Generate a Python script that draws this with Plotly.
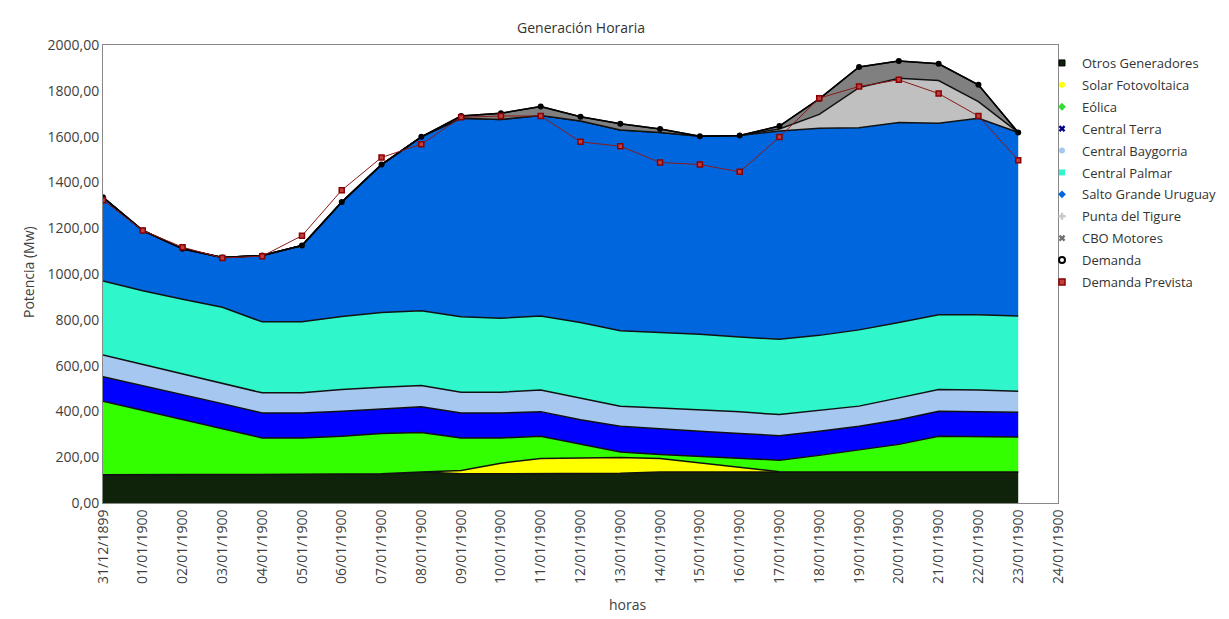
import plotly.graph_objects as go

hours = list(range(24))
tick_labels = ["31/12/1899"] + [f"{d:02d}/01/1900" for d in range(1, 25)]

otros = [123, 125, 125, 124, 125, 125, 125, 128, 135, 128, 128, 128, 130, 130, 135, 135, 136, 137, 135, 135, 135, 135, 135, 135]
solar = [0, 0, 0, 0, 0, 0, 0, 0, 0, 14, 46, 66, 67, 69, 59, 41, 22, 0, 0, 0, 0, 0, 0, 0]
eolica = [321, 279, 239, 199, 159, 159, 166, 175, 173, 142, 110, 97, 59, 24, 18, 27, 37, 50, 73, 97, 121, 156, 153, 153]
terra = [107, 109, 110, 111, 109, 109, 110, 109, 112, 109, 109, 108, 108, 112, 111, 110, 108, 107, 105, 103, 108, 110, 110, 108]
baygorria = [95, 92, 87, 88, 88, 88, 95, 94, 93, 91, 91, 94, 95, 88, 92, 95, 95, 92, 91, 88, 95, 95, 95, 92]
palmar = [324, 322, 329, 333, 310, 310, 318, 326, 326, 329, 323, 324, 329, 329, 329, 329, 327, 329, 328, 333, 329, 326, 329, 329]
salto_grande = [365, 263, 220, 217, 290, 333, 500, 646, 760, 867, 868, 875, 880, 877, 874, 865, 880, 909, 904, 883, 874, 836, 858, 801]
punta_tigre = [0, 0, 0, 0, 0, 0, 0, 0, 0, 0, 0, 0, 0, 0, 0, 0, 0, 9, 61, 175, 193, 187, 73, 0]
cbo_motores = [0, 0, 0, 0, 0, 0, 0, 0, 0, 10, 27, 39, 19, 27, 15, 0, 0, 13, 68, 90, 75, 73, 73, 0]
demanda = [1335, 1190, 1110, 1072, 1081, 1124, 1314, 1478, 1599, 1690, 1702, 1731, 1687, 1656, 1633, 1602, 1605, 1646, 1765, 1904, 1930, 1918, 1826, 1618]
demanda_prevista = [1322, 1190, 1117, 1070, 1078, 1167, 1366, 1509, 1567, 1684, 1690, 1690, 1577, 1558, 1487, 1478, 1446, 1598, 1768, 1819, 1848, 1788, 1690, 1497]

areas = [
    ("Otros Generadores", otros, "#0e230a", dict(symbol="square", color="#0e230a", size=6, line=dict(color="#000", width=1))),
    ("Solar Fotovoltaica", solar, "#ffff00", dict(symbol="circle", color="#ffff00", size=6, line=dict(width=0))),
    ("Eólica", eolica, "#33ff00", dict(symbol="diamond", color="#33dd33", size=6, line=dict(width=0))),
    ("Central Terra", terra, "#0000ff", dict(symbol="x", color="#00008b", size=6, line=dict(width=0))),
    ("Central Baygorria", baygorria, "#a6c8f0", dict(symbol="circle", color="#a6c8f0", size=6, line=dict(width=0))),
    ("Central Palmar", palmar, "#30f6cc", dict(symbol="square", color="#30f6cc", size=6, line=dict(width=0))),
    ("Salto Grande Uruguay", salto_grande, "#0066dd", dict(symbol="diamond", color="#0066dd", size=6, line=dict(width=0))),
    ("Punta del Tigure", punta_tigre, "#c0c0c0", dict(symbol="cross", color="#c8c8c8", size=6, line=dict(width=0))),
    ("CBO Motores", cbo_motores, "#808080", dict(symbol="x", color="#707070", size=6, line=dict(width=0))),
]

fig = go.Figure()

for name, vals, col, mk in areas:
    fig.add_trace(go.Scatter(
        x=hours, y=vals, name=name, stackgroup="gen", mode="lines",
        line=dict(color="#111111", width=1.5), fillcolor=col,
        showlegend=False, hoverinfo="skip",
    ))

fig.add_trace(go.Scatter(
    x=hours, y=demanda, name="Demanda", mode="lines+markers",
    line=dict(color="#000000", width=1.5),
    marker=dict(symbol="circle", size=6, color="#000000"),
    showlegend=False,
))
fig.add_trace(go.Scatter(
    x=hours, y=demanda_prevista, name="Demanda Prevista", mode="lines+markers",
    line=dict(color="#8b1a1a", width=1),
    marker=dict(symbol="square", size=5, color="#c04040", line=dict(color="#8b0000", width=1.5)),
    showlegend=False,
))

# legend entries (marker style, as in the original)
legend_items = [(name, mk) for name, vals, col, mk in areas] + [
    ("Demanda", dict(symbol="circle", size=6, color="#ffffff", line=dict(color="#000", width=2))),
    ("Demanda Prevista", dict(symbol="square", size=6, color="#c04040", line=dict(color="#8b0000", width=1.5))),
]
for name, mk in legend_items:
    fig.add_trace(go.Scatter(x=[None], y=[None], name=name, legendgroup=name, mode="markers",
                             marker=mk, showlegend=True))

# the page adds an 8 px body margin, so the figure is drawn 8 px smaller
W, H = 1221, 611
fig.update_layout(
    width=W, height=H,
    margin=dict(l=95, r=171, t=37, b=116, autoexpand=False),
    paper_bgcolor="white", plot_bgcolor="white",
    separators=", ",
    font=dict(family="Open Sans, Noto Sans, sans-serif", size=14, color="#404040"),
    legend=dict(xref="container", yref="container", x=1034 / W, xanchor="left", y=1 - 40 / H, yanchor="top",
                traceorder="grouped", tracegroupgap=2, font=dict(size=13, color="#333333"),
                bgcolor="rgba(0,0,0,0)", itemwidth=30),
    showlegend=True,
    annotations=[
        dict(text="Generación Horaria", xref="paper", yref="paper", x=0.5005, y=(503 - 27) / 458,
             xanchor="center", yanchor="middle", showarrow=False, font=dict(size=14, color="#333333")),
        dict(text="horas", xref="paper", yref="paper", x=(628 - 103) / 955, y=(503 - 604) / 458,
             xanchor="center", yanchor="middle", showarrow=False, font=dict(size=14, color="#404040")),
        dict(text="Potencia (Mw)", xref="paper", yref="paper", x=(28 - 103) / 955, y=(503 - 272) / 458,
             xanchor="center", yanchor="middle", textangle=-90, showarrow=False,
             font=dict(size=14, color="#404040")),
    ],
)

fig.update_xaxes(
    range=[0, 24], tickmode="array", tickvals=list(range(25)), ticktext=tick_labels,
    tickangle=-90, showgrid=False, zeroline=False, automargin=False,
    showline=True, linecolor="#888888", linewidth=1, mirror=True,
    ticks="", tickfont=dict(size=14, color="#404040"),
)
fig.update_yaxes(
    range=[0, 2000], dtick=200, tickformat=".2f", showgrid=False, zeroline=False, automargin=False,
    showline=True, linecolor="#888888", linewidth=1, mirror=True,
    ticks="", tickfont=dict(size=14, color="#404040"),
)

fig.write_html("out.html")
